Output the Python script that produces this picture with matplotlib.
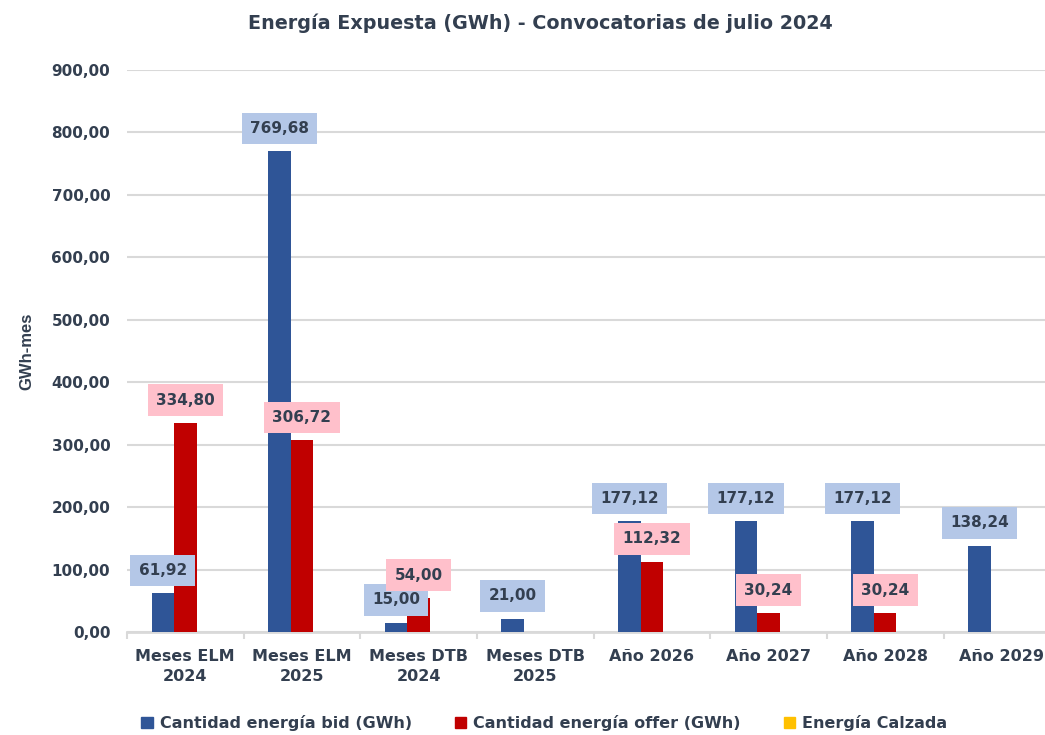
import numpy as np
import matplotlib.pyplot as plt
from matplotlib.patches import Patch
from matplotlib.ticker import FuncFormatter, MultipleLocator

# data
categories = ["Meses ELM\n2024", "Meses ELM\n2025", "Meses DTB\n2024", "Meses DTB\n2025",
              "Año 2026", "Año 2027", "Año 2028", "Año 2029"]
bid = [61.92, 769.68, 15.00, 21.00, 177.12, 177.12, 177.12, 138.24]
offer = [334.80, 306.72, 54.00, None, 112.32, 30.24, 30.24, None]
calzada = [0, 0, 0, 0, 0, 0, 0, 0]

series_names = ["Cantidad energía bid (GWh)", "Cantidad energía offer (GWh)", "Energía Calzada"]
colors = ["#2F5597", "#C00000", "#FFC000"]
label_bg = ["#B4C7E7", "#FFC0CB"]
txt = "#333F50"

def fmt(v):
	return ("%.2f" % v).replace(".", ",")

fig = plt.figure(figsize=(10.45, 7.35), dpi=100)
ax = fig.add_axes([0.1215, 0.1401, 0.893, 0.7647])

x = np.arange(len(categories))
w = 0.193

for i, vals in enumerate([bid, offer, calzada]):
	h = [v if v is not None else 0 for v in vals]
	ax.bar(x + (i - 1) * w, h, w, color=colors[i], zorder=3)

# data labels (only bid and offer have values)
for i, vals in enumerate([bid, offer]):
	for j, v in enumerate(vals):
		if v is None:
			continue
		ax.annotate(fmt(v), (x[j] + (i - 1) * w, v), xytext=(0, 16.5), textcoords="offset points",
			ha="center", va="center", fontsize=11, fontweight="bold", color=txt, zorder=5,
			bbox=dict(boxstyle="square,pad=0.55", fc=label_bg[i], ec="none"))

ax.set_xlim(-0.5, len(categories) - 0.5)
ax.set_ylim(0, 900)
ax.yaxis.set_major_locator(MultipleLocator(100))
ax.yaxis.set_major_formatter(FuncFormatter(lambda v, p: fmt(v)))
ax.grid(axis="y", color="#D9D9D9", linewidth=1.5, zorder=0)
ax.set_axisbelow(True)

for s in ["top", "right", "left"]:
	ax.spines[s].set_visible(False)
ax.spines["bottom"].set_color("#D9D9D9")
ax.spines["bottom"].set_linewidth(2)

ax.set_xticks(x)
ax.set_xticklabels(categories, linespacing=1.45)
ax.set_xticks(np.arange(len(categories) + 1) - 0.5, minor=True)
ax.tick_params(axis="x", which="major", length=0, pad=12)
ax.tick_params(axis="x", which="minor", length=5, width=1.5, color="#D9D9D9")
ax.tick_params(axis="y", length=0, pad=12)
for lb in ax.get_xticklabels() + ax.get_yticklabels():
	lb.set_fontweight("bold")
	lb.set_color(txt)
	lb.set_fontsize(11)
for lb in ax.get_xticklabels():
	lb.set_fontsize(11.5)

ax.set_ylabel("GWh-mes", fontsize=12, fontweight="bold", color=txt, family="Liberation Sans", labelpad=12)

fig.text(0.517, 0.968, "Energía Expuesta (GWh) - Convocatorias de julio 2024", ha="center", va="center",
	fontsize=13.8, fontweight="bold", color=txt)

handles = [Patch(color=c) for c in colors]
leg = fig.legend(handles, series_names, loc="center", bbox_to_anchor=(0.521, 0.016), ncol=3,
	frameon=False, handlelength=0.7, handleheight=0.7, handletextpad=0.45, columnspacing=2.7,
	prop=dict(size=11.5, weight="bold"))
for t in leg.get_texts():
	t.set_color(txt)

fig.savefig("out.png", dpi=100)
